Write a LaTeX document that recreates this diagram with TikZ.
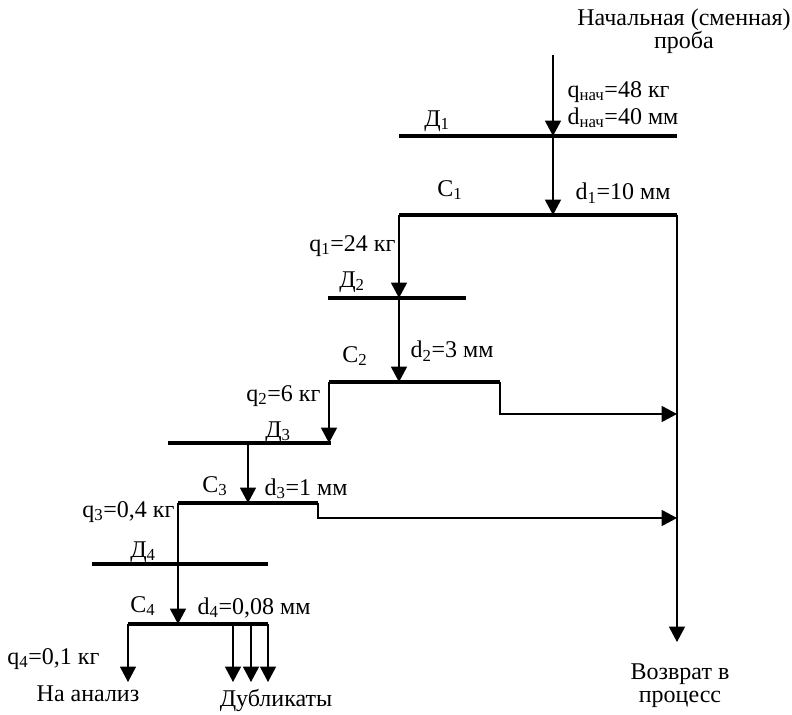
\documentclass[tikz,border=0pt]{standalone}
\usepackage{fontspec}
\setmainfont{Liberation Serif}
\newfontfamily\schemefont{Liberation Serif}
\usetikzlibrary{arrows.meta,positioning}

\begin{document}
\begin{tikzpicture}[x=0.75pt,y=-0.75pt,
  every node/.style={font=\schemefont\fontsize{18}{19}\selectfont,align=center,inner sep=1pt},
  bar/.style={line width=2.4pt},
  link/.style={line width=1pt},
  flow/.style={line width=1pt,-{Triangle[length=11.5pt,width=12pt]}}]
\useasboundingbox (0,0) rectangle (792,714);
% points of the scheme
\coordinate (in) at (553,55);
\coordinate (d1L) at (399,136); \coordinate (d1M) at (553,136); \coordinate (d1R) at (677,136);
\coordinate (c1L) at (399,215); \coordinate (c1M) at (553,215); \coordinate (c1R) at (677,215);
\coordinate (ret) at (677,642);
\coordinate (d2L) at (328,298); \coordinate (d2M) at (399,298); \coordinate (d2R) at (466,298);
\coordinate (c2L) at (329,382); \coordinate (c2M) at (399,382); \coordinate (c2R) at (500,382);
\coordinate (c2B) at (500,414); \coordinate (ret2) at (677,414);
\coordinate (d3L) at (168,443); \coordinate (d3M) at (248,443); \coordinate (d3R) at (331,443);
\coordinate (c3L) at (178,503); \coordinate (c3M) at (248,503); \coordinate (c3R) at (318,503);
\coordinate (c3B) at (318,518); \coordinate (ret3) at (677,518);
\coordinate (d4L) at (92,564); \coordinate (d4M) at (178,564); \coordinate (d4R) at (268,564);
\coordinate (c4L) at (128,624); \coordinate (c4M) at (178,624); \coordinate (c4R) at (268,624);
\coordinate (an) at (128,682);
\coordinate (du1) at (233,682); \coordinate (du2) at (251,682); \coordinate (du3) at (268,682);
% bars
\draw[bar] (d1L) -- (d1R);
\draw[bar] (c1L) -- (c1R);
\draw[bar] (d2L) -- (d2R);
\draw[bar] (c2L) -- (c2R);
\draw[bar] (d3L) -- (d3R);
\draw[bar] (c3L) -- (c3R);
\draw[bar] (d4L) -- (d4R);
\draw[bar] (c4L) -- (c4R);
% flows
\draw[flow] (in) -- (d1M);
\draw[flow] (d1M) -- (c1M);
\draw[flow] (c1R) -- (ret);
\draw[flow] (c1L) -- (d2M);
\draw[flow] (d2M) -- (c2M);
\draw[flow] (c2R) -- (c2B) -- (ret2);
\draw[flow] (c2L) -- (d3R -| c2L);
\draw[flow] (d3M) -- (c3M);
\draw[flow] (c3R) -- (c3B) -- (ret3);
\draw[link] (c3L) -- (d4M);
\draw[flow] (d4M) -- (c4M);
\draw[flow] (c4L) -- (an);
\draw[flow] (du1 |- c4R) -- (du1);
\draw[flow] (du2 |- c4R) -- (du2);
\draw[flow] (c4R) -- (du3);
% labels
\node (start) at (684,31) {Начальная (сменная)\\[-2pt]проба};
\node[anchor=west] (qn) at (566,92) {q\textsubscript{нач}=48 кг};
\node[anchor=west] (dn) at (566,118) {d\textsubscript{нач}=40 мм};
\node (D1) at (437,121) {Д\textsubscript{1}};
\node (C1) at (450,190) {С\textsubscript{1}};
\node[anchor=west] (dd1) at (574,193) {d\textsubscript{1}=10 мм};
\node[anchor=east] (q1) at (397,246) {q\textsubscript{1}=24 кг};
\node (D2) at (352,282) {Д\textsubscript{2}};
\node (C2) at (355,356) {С\textsubscript{2}};
\node[anchor=west] (dd2) at (409,351) {d\textsubscript{2}=3 мм};
\node[anchor=east] (q2) at (322,396) {q\textsubscript{2}=6 кг};
\node (D3) at (278,432) {Д\textsubscript{3}};
\node (C3) at (215,486) {С\textsubscript{3}};
\node[anchor=west] (dd3) at (263,489) {d\textsubscript{3}=1 мм};
\node[anchor=east] (q3) at (176,512) {q\textsubscript{3}=0,4 кг};
\node (D4) at (143,552) {Д\textsubscript{4}};
\node (C4) at (143,606) {С\textsubscript{4}};
\node[anchor=west] (dd4) at (196,608) {d\textsubscript{4}=0,08 мм};
\node[anchor=east] (q4) at (101,659) {q\textsubscript{4}=0,1 кг};
\node (anal) at (88,694) {На анализ};
\node (dub) at (276,700) {Дубликаты};
\node (back) at (680,686) {Возврат в\\[-2pt]процесс};
\end{tikzpicture}
\end{document}
